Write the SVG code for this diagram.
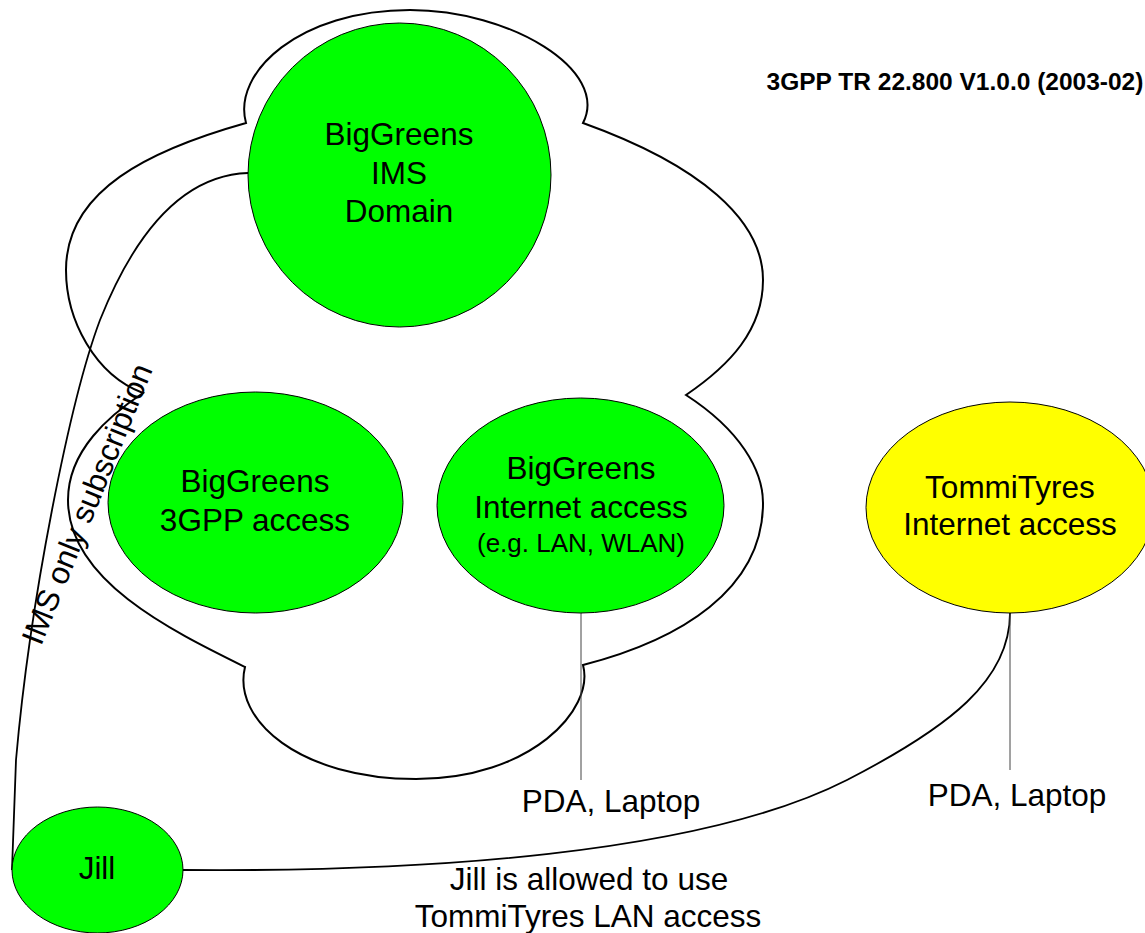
<svg xmlns="http://www.w3.org/2000/svg" width="1145" height="933" viewBox="0 0 1145 933">
<style>
text{font-family:"Liberation Sans",Arial,sans-serif;font-size:31.5px;fill:#000;text-anchor:middle}
.title{font-weight:bold;font-size:24.5px}
.small{font-size:26px}
.node{stroke:#000;stroke-width:1}
.green{fill:#00ff00}
.yellow{fill:#ffff00}
.cloud{fill:none;stroke:#000;stroke-width:2}
.conn{fill:none;stroke:#000;stroke-width:1.8}
.thin{fill:none;stroke:#444;stroke-width:1}
</style>
<rect width="1145" height="933" fill="#fff"/>
<text class="title" x="955" y="90">3GPP TR 22.800 V1.0.0 (2003-02)</text>
<g id="cloud">
<path class="cloud" d="M246,123 C232,72 300,10 410,10 C510,10 610,70 583,123 C700,165 763,220 763,280 C763,330 730,365 686,395 C740,430 763,470 763,503 C763,590 680,640 583,665 C595,710 530,779 416,779 C300,779 232,720 245,667 C170,630 68,580 68,500 C68,450 110,415 143,393 C95,375 66,320 66,270 C66,190 150,150 246,123 Z"/>
</g>
<g id="connectors">
<path class="conn" d="M248,173 C190,175 140,220 100,320 C70,400 30,600 16,760 L12,870"/>
<path class="conn" d="M183,870 C420,872 700,855 847,780 C950,727 1010,680 1010,613"/>
<line class="thin" x1="581" y1="613" x2="581" y2="780"/>
<line class="thin" x1="1010" y1="613" x2="1010" y2="770"/>
</g>
<g id="ims">
<ellipse class="node green" cx="399.5" cy="175" rx="151.5" ry="152"/>
<text x="399" y="145">BigGreens</text>
<text x="399" y="184">IMS</text>
<text x="399" y="222">Domain</text>
</g>
<g id="access3gpp">
<ellipse class="node green" cx="255.5" cy="502.5" rx="147.5" ry="110.5"/>
<text x="255" y="492">BigGreens</text>
<text x="255" y="531">3GPP access</text>
</g>
<g id="internet">
<ellipse class="node green" cx="580.5" cy="505.5" rx="143.5" ry="107.5"/>
<text x="581" y="479">BigGreens</text>
<text x="581" y="518">Internet access</text>
<text class="small" x="581" y="552">(e.g. LAN, WLAN)</text>
</g>
<g id="tommi">
<ellipse class="node yellow" cx="1010" cy="507.5" rx="144" ry="105.5"/>
<text x="1010" y="498">TommiTyres</text>
<text x="1010" y="535">Internet access</text>
</g>
<g id="jill">
<ellipse class="node green" cx="97.5" cy="870" rx="85.5" ry="63"/>
<text x="97" y="879">Jill</text>
</g>
<g id="labels">
<text transform="translate(97,508) rotate(-68)" x="0" y="0">IMS only subscription</text>
<text x="611" y="812">PDA, Laptop</text>
<text x="1017" y="806">PDA, Laptop</text>
<text x="589" y="890">Jill is allowed to use</text>
<text x="588" y="927">TommiTyres LAN access</text>
</g>
</svg>
